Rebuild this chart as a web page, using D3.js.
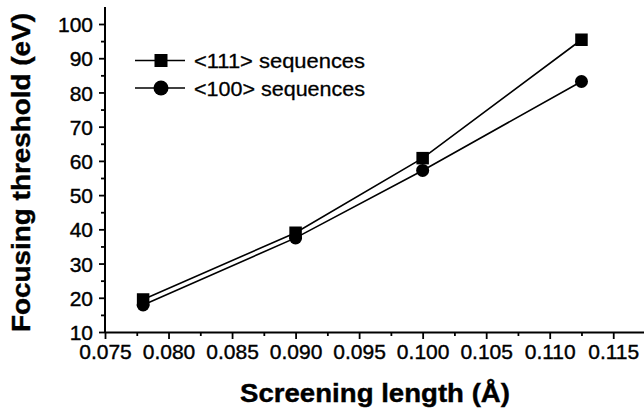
<!DOCTYPE html>
<html>
<head>
<meta charset="utf-8">
<script src="https://cdn.jsdelivr.net/npm/d3@7"></script>
<style>
  body { margin: 0; background: #fff; }
  svg { display: block; font-family: Arial, "Liberation Sans", sans-serif; }
</style>
</head>
<body>
<svg id="chart"></svg>
<script>
// Data
const screening = [0.078, 0.090, 0.100, 0.1125];
const seq111 = [19.5, 39, 60.8, 95.4];
const seq100 = [17.9, 37.5, 57.2, 83.2];
const seriesNames = ['<111> sequences', '<100> sequences'];
const xTicks = [0.075, 0.080, 0.085, 0.090, 0.095, 0.100, 0.105, 0.110, 0.115];
const yTicks = [10, 20, 30, 40, 50, 60, 70, 80, 90, 100];

const width = 644, height = 415;
const marginLeft = 105, marginTop = 7, marginBottom = 83, marginRight = 0;
const font = 'Arial, "Liberation Sans", sans-serif';

const svg = d3.select('#chart')
  .attr('width', width)
  .attr('height', height)
  .attr('viewBox', [0, 0, width, height]);

const x = d3.scaleLinear([0.075, 0.1175], [marginLeft, width - marginRight + 1]);
const y = d3.scaleLinear([10, 100], [height - marginBottom, 24]);

// X axis (major + minor ticks)
const gx = svg.append('g')
  .attr('transform', `translate(0,${height - marginBottom})`);
gx.append('g')
  .call(d3.axisBottom(x).tickValues(d3.range(0.0775, 0.1175, 0.005)).tickSize(4).tickFormat(''))
  .call(g => g.select('.domain').remove())
  .call(g => g.selectAll('.tick line').attr('stroke-width', 1.8));
gx.append('g')
  .call(d3.axisBottom(x).tickValues(xTicks).tickSize(7).tickSizeOuter(0).tickFormat(d3.format('.3f')))
  .call(g => g.select('.domain').attr('stroke-width', 2))
  .call(g => g.selectAll('.tick line').attr('stroke-width', 1.8))
  .call(g => g.selectAll('.tick text')
    .attr('font-size', 21).attr('font-family', font).attr('fill', '#000')
    .attr('stroke', '#000').attr('stroke-width', 0.4)
    .attr('y', 11).attr('dy', '0.75em'));

// Y axis (major + minor ticks)
const gy = svg.append('g')
  .attr('transform', `translate(${marginLeft},0)`);
gy.append('g')
  .call(d3.axisLeft(y).tickValues(d3.range(15, 101, 10)).tickSize(4).tickFormat(''))
  .call(g => g.select('.domain').remove())
  .call(g => g.selectAll('.tick line').attr('stroke-width', 1.8));
gy.append('g')
  .call(d3.axisLeft(y).tickValues(yTicks).tickSize(6).tickSizeOuter(0))
  .call(g => g.select('.domain').remove())
  .call(g => g.selectAll('.tick line').attr('stroke-width', 1.8))
  .call(g => g.selectAll('.tick text')
    .attr('font-size', 21).attr('font-family', font).attr('fill', '#000')
    .attr('stroke', '#000').attr('stroke-width', 0.4)
    .attr('x', -12).attr('dy', '0.36em'));
gy.append('line')
  .attr('x1', 0).attr('x2', 0)
  .attr('y1', marginTop).attr('y2', height - marginBottom + 1)
  .attr('stroke', '#000').attr('stroke-width', 2);

// Axis titles
svg.append('text')
  .attr('x', 240).attr('y', 402)
  .attr('font-size', 26).attr('font-weight', 'bold')
  .attr('stroke', '#000').attr('stroke-width', 0.4)
  .attr('textLength', 270).attr('lengthAdjust', 'spacingAndGlyphs')
  .text('Screening length (Å)');
svg.append('text')
  .attr('transform', `translate(30,332) rotate(-90)`)
  .attr('font-size', 25).attr('font-weight', 'bold')
  .attr('stroke', '#000').attr('stroke-width', 0.4)
  .attr('textLength', 319).attr('lengthAdjust', 'spacingAndGlyphs')
  .text('Focusing threshold (eV)');

// Lines and markers
const series = [seq111, seq100];
const line = d3.line().x((d, i) => x(screening[i])).y(d => y(d));

svg.append('g')
  .attr('fill', 'none').attr('stroke', '#000').attr('stroke-width', 1.6)
  .selectAll('path')
  .data(series)
  .join('path')
  .attr('d', d => line(d));

const sq = 12.5, cr = 6.5;
svg.append('g').selectAll('rect')
  .data(seq111)
  .join('rect')
  .attr('x', (d, i) => x(screening[i]) - sq / 2)
  .attr('y', d => y(d) - sq / 2)
  .attr('width', sq).attr('height', sq)
  .attr('fill', '#000');
svg.append('g').selectAll('circle')
  .data(seq100)
  .join('circle')
  .attr('cx', (d, i) => x(screening[i]))
  .attr('cy', d => y(d))
  .attr('r', cr)
  .attr('fill', '#000');

// Legend
const legend = svg.append('g').attr('transform', 'translate(135,60.5)');
seriesNames.forEach((name, i) => {
  const g = legend.append('g').attr('transform', `translate(0,${i * 27.5})`);
  g.append('line').attr('x1', 0).attr('x2', 50).attr('stroke', '#000').attr('stroke-width', 1.6);
  if (i === 0) {
    g.append('rect').attr('x', 26 - 6.5).attr('y', -6.5).attr('width', 13).attr('height', 13).attr('fill', '#000');
  } else {
    g.append('circle').attr('cx', 26).attr('cy', 0).attr('r', 7.5).attr('fill', '#000');
  }
  g.append('text').attr('x', 59).attr('dy', '0.36em').attr('font-size', 21)
    .attr('stroke', '#000').attr('stroke-width', 0.3)
    .attr('textLength', 171).attr('lengthAdjust', 'spacingAndGlyphs')
    .text(name);
});
</script>
</body>
</html>
